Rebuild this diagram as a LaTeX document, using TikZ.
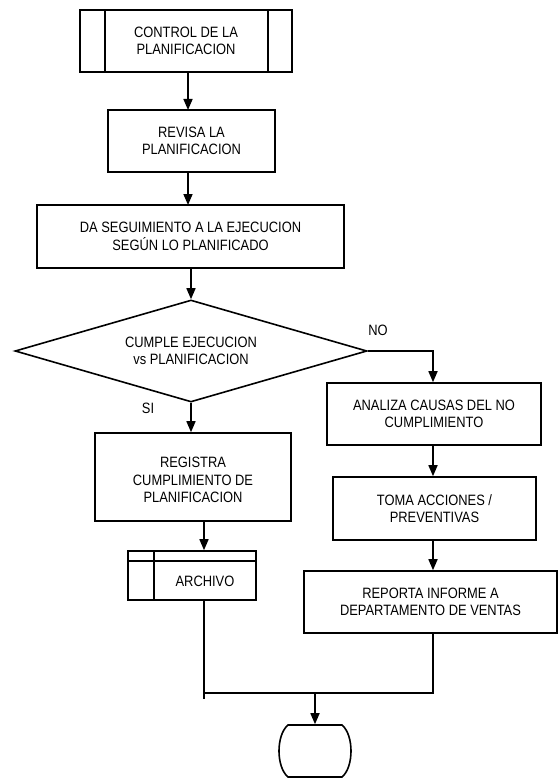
\documentclass[tikz,border=0pt]{standalone}
\usepackage{fontspec}
\setmainfont{Liberation Sans}[FakeStretch=0.86]
\usetikzlibrary{shapes.geometric,arrows.meta}
\begin{document}
\begin{tikzpicture}[x=1pt,y=-1pt,
  line width=1.6pt,
  every node/.style={font=\fontsize{15}{17.6}\selectfont, align=center, inner sep=0pt},
  box/.style={draw, rectangle},
  decision/.style={draw, diamond, aspect=3.45},
  flow/.style={-{Triangle[length=11pt,width=9pt]}},
  lbl/.style={font=\fontsize{15}{17}\selectfont}
]
\useasboundingbox (0,0) rectangle (557,778);

% process boxes
\node[box, minimum width=212pt, minimum height=62pt] (control) at (186,41) {CONTROL DE LA\\PLANIFICACION};
\draw (105,10) -- (105,72) (268,10) -- (268,72);

\node[box, minimum width=167pt, minimum height=62pt] (revisa) at (191.5,141) {REVISA LA\\PLANIFICACION};
\node[box, minimum width=307pt, minimum height=63pt] (seguimiento) at (190.5,236.5) {DA SEGUIMIENTO A LA EJECUCION\\SEGÚN LO PLANIFICADO};

\node[decision, minimum width=352pt, minimum height=102pt] (cumple) at (191,351) {CUMPLE EJECUCION\\vs PLANIFICACION};

\node[box, minimum width=214pt, minimum height=62pt] (analiza) at (434,414) {ANALIZA CAUSAS DEL NO\\CUMPLIMIENTO};
\node[box, minimum width=203pt, minimum height=63pt] (toma) at (434.5,508.5) {TOMA ACCIONES /\\PREVENTIVAS};
\node[box, minimum width=253pt, minimum height=62pt] (reporta) at (430.5,602) {REPORTA INFORME A\\DEPARTAMENTO DE VENTAS};

\node[box, minimum width=196pt, minimum height=88pt] (registra) at (193,477) {};
\node (registratxt) at (193,480) {REGISTRA\\CUMPLIMIENTO DE\\PLANIFICACION};

% stored-data box
\node[box, minimum width=128pt, minimum height=49pt] (archivo) at (192,575.5) {};
\draw (128,561) -- (256,561) (154,551) -- (154,600);
\node (archivotxt) at (205,581) {ARCHIVO};

% terminator with rounded sides
\node[minimum width=72pt, minimum height=52pt] (fin) at (315,751) {};
\draw (288,725) -- (342,725)
      .. controls (354,735) and (354,767) .. (342,777)
      -- (288,777)
      .. controls (276,767) and (276,735) .. (288,725) -- cycle;

% connectors
\draw[flow] (control.south -| 188,0) -- (188,110);
\draw[flow] (revisa.south -| 188,0) -- (188,205);
\draw[flow] (seguimiento.south -| 191,0) -- (cumple.north);
\coordinate (noturn) at (433,351);
\draw[flow] (cumple.east) -- (noturn) -- (analiza.north -| noturn);
\draw[flow] (cumple.south) -- (registra.north -| cumple.south);
\draw[flow] (analiza.south -| noturn) -- (toma.north -| noturn);
\draw[flow] (toma.south -| noturn) -- (reporta.north -| noturn);
\draw[flow] (registra.south -| 204,0) -- (archivo.north -| 204,0);

\coordinate (joinL) at (204,693);
\coordinate (joinR) at (433,693);
\coordinate (joinM) at (315,693);
\draw (archivo.south -| joinL) -- (204,699);
\draw (reporta.south -| joinR) -- (joinR) -- (joinL);
\draw[flow] (joinM) -- (fin.north);

\node[lbl] (no) at (378,330) {NO};
\node[lbl] (si) at (148,408) {SI};
\end{tikzpicture}
\end{document}
